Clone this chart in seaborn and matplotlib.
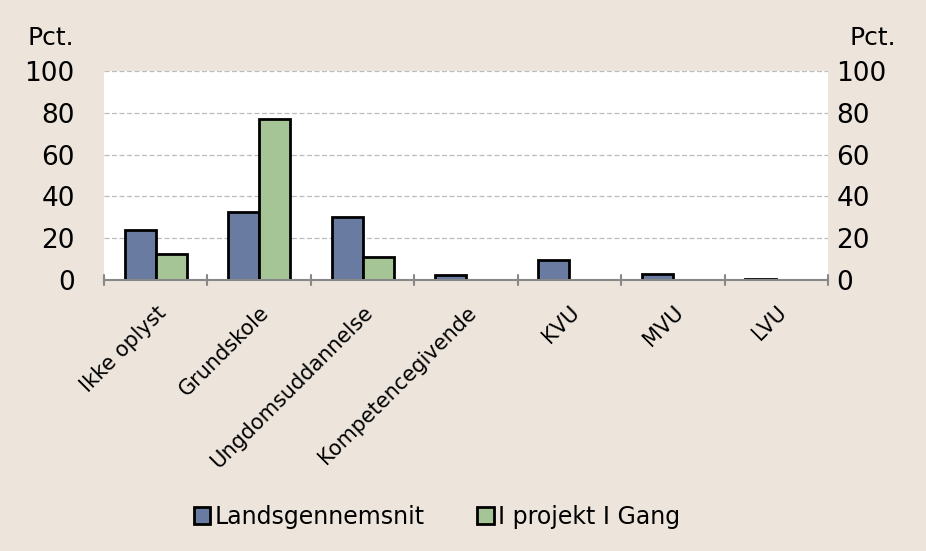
import matplotlib
matplotlib.use("Agg")
import matplotlib.pyplot as plt
import seaborn as sns
import pandas as pd

# data
categories = ["Ikke oplyst", "Grundskole", "Ungdomsuddannelse", "Kompetencegivende",
              "KVU", "MVU", "LVU"]
landsgennemsnit = [24, 32.5, 30, 2.3, 9.5, 3, 0.3]
i_gang = [12.5, 77, 11, 0, 0, 0, 0]
series = ["Landsgennemsnit", "I projekt I Gang"]

df = pd.DataFrame({
    "kategori": categories * 2,
    "serie": [series[0]] * len(categories) + [series[1]] * len(categories),
    "pct": landsgennemsnit + i_gang,
})

sns.set_style("white")
plt.rcParams["font.family"] = ["DejaVu Sans"]
plt.rcParams["text.color"] = "black"
plt.rcParams["xtick.color"] = "black"
plt.rcParams["ytick.color"] = "black"

bg = "#EDE5DC"
fig = plt.figure(figsize=(9.26, 5.51), dpi=100, facecolor=bg)
ax = fig.add_axes([104 / 926, 1 - 280 / 551, (828 - 104) / 926, (280 - 71) / 551])
ax.set_facecolor("white")

sns.barplot(data=df, x="kategori", y="pct", hue="serie", order=categories,
            palette=["#6A7BA2", "#A6C596"], saturation=1, width=0.6,
            edgecolor="black", linewidth=2, ax=ax, legend=True)

ax.set_ylim(0, 100)
ax.set_xlim(-0.5, len(categories) - 0.5)
ax.set_yticks(range(0, 101, 20))
ax.yaxis.grid(True, linestyle=(0, (4, 2)), color="#BBBBBB", linewidth=0.9)
ax.set_axisbelow(True)
for s in ["top", "right", "left"]:
    ax.spines[s].set_visible(False)
ax.spines["bottom"].set_color("#888888")
ax.spines["bottom"].set_linewidth(1.5)
ax.tick_params(axis="y", length=0, labelsize=19, pad=21, labelcolor="black")
ax.set_xlabel("")
ax.set_ylabel("")

# category labels and boundary tick marks
ax.set_xticks(range(len(categories)))
ax.set_xticklabels(categories, rotation=45, ha="right", rotation_mode="anchor",
                   fontsize=15, color="black")
ax.tick_params(axis="x", length=0, pad=16)
for b in [i - 0.5 for i in range(len(categories) + 1)]:
    ax.plot([b, b], [-2.5, 2.5], color="#888888", lw=1.5, clip_on=False, zorder=5)

ax2 = ax.twinx()
ax2.set_ylim(0, 100)
ax2.set_yticks(range(0, 101, 20))
ax2.tick_params(axis="y", length=0, labelsize=19, pad=6, labelcolor="black")
for s in ax2.spines.values():
    s.set_visible(False)

fig.text(27 / 926, 1 - 38 / 551, "Pct.", fontsize=18, va="center", ha="left")
fig.text(849 / 926, 1 - 38 / 551, "Pct.", fontsize=18, va="center", ha="left")

handles, labels = ax.get_legend_handles_labels()
ax.legend_.remove()
fig.legend(handles, labels, loc="center", bbox_to_anchor=(437 / 926, 1 - 517 / 551),
           ncol=2, frameon=False, fontsize=17, handlelength=0.7, handleheight=0.7,
           handletextpad=0.2, columnspacing=2.2)

fig.savefig("out.png", dpi=100, facecolor=bg)
